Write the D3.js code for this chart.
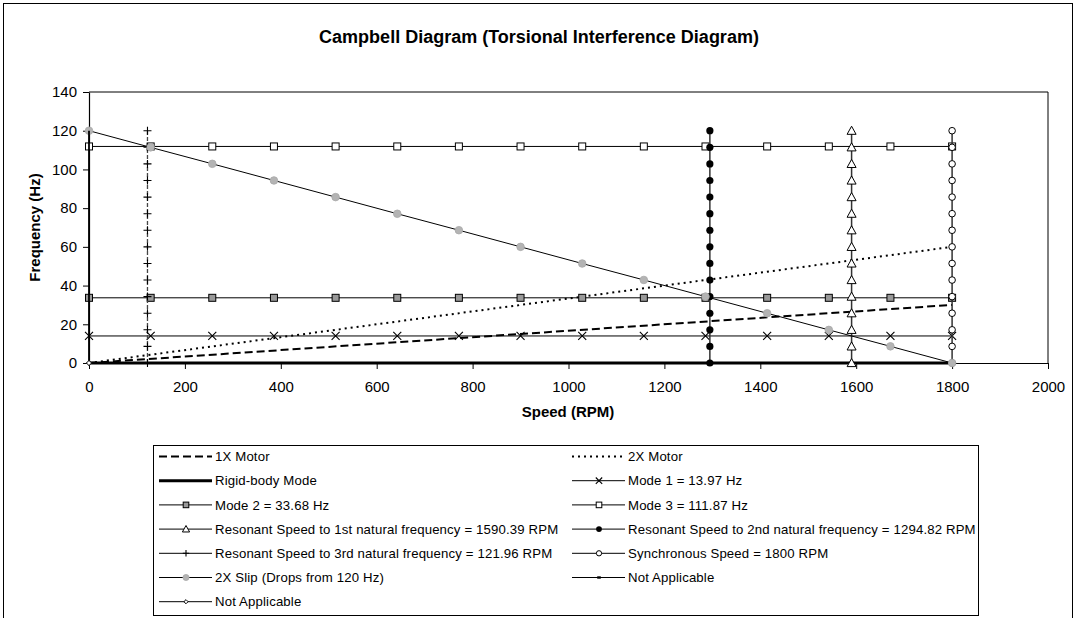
<!DOCTYPE html>
<html><head><meta charset="utf-8">
<script src="https://cdn.jsdelivr.net/npm/d3@7"></script>
<style>
body{margin:0;background:#fff}
svg{display:block;font-family:"Liberation Sans",Arial,sans-serif}
</style>
</head><body>
<svg id="chart" width="1075" height="618"></svg>
<script>
// Speeds (RPM) at which the constant-frequency lines carry markers
const rpmSteps = [0, 128.6, 257.1, 385.7, 514.3, 642.9, 771.4, 900, 1028.6, 1157.1, 1285.7, 1414.3, 1542.9, 1671.4, 1800];
// Frequencies (Hz) at which the constant-speed lines carry markers
const hzSteps = [0, 8.57, 17.14, 25.71, 34.29, 42.86, 51.43, 60, 68.57, 77.14, 85.71, 94.29, 102.86, 111.43, 120];

const motorRpm = [0, 1800];
const motor1xHz = [0, 30];
const motor2xHz = [0, 60];
const rigidHz = [0, 0];
const mode1Hz = 13.97;
const mode2Hz = 33.68;
const mode3Hz = 111.87;
const resonant1Rpm = 1590.39;
const resonant2Rpm = 1294.82;
const resonant3Rpm = 121.96;
const syncRpm = 1800;
const slipHz = [120, 111.4, 102.9, 94.3, 85.7, 77.1, 68.6, 60, 51.4, 42.9, 34.3, 25.7, 17.1, 8.6, 0];
const naRpm = [0, 0];
const naHz = [0, 120];

const xTicks = [0, 200, 400, 600, 800, 1000, 1200, 1400, 1600, 1800, 2000];
const yTicks = [0, 20, 40, 60, 80, 100, 120, 140];

const svg = d3.select("#chart");
const x = d3.scaleLinear().domain([0, 2000]).range([89, 1048]);
const y = d3.scaleLinear().domain([0, 140]).range([363, 92]);

// outer chart frame
svg.append("rect").attr("x", 3.5).attr("y", 3.5).attr("width", 1069).attr("height", 640)
  .attr("fill", "none").attr("stroke", "#000").attr("stroke-width", 1);

svg.append("text").attr("x", 539).attr("y", 43).attr("text-anchor", "middle")
  .attr("font-size", 18).attr("font-weight", "bold").text("Campbell Diagram (Torsional Interference Diagram)");

// plot frame (top/right)
svg.append("path").attr("d", `M${x(0)},${y(140)}H${x(2000)}V${y(0)}`)
  .attr("fill", "none").attr("stroke", "#000").attr("stroke-width", 1);

// axes
const xAxis = svg.append("g").attr("transform", `translate(0,${y(0)})`)
  .call(d3.axisBottom(x).tickValues(xTicks).tickFormat(d3.format("d")).tickSizeOuter(0).tickSizeInner(6).tickPadding(12));
const yAxis = svg.append("g").attr("transform", `translate(${x(0)},0)`)
  .call(d3.axisLeft(y).tickValues(yTicks).tickFormat(d3.format("d")).tickSizeOuter(0).tickSizeInner(6).tickPadding(6));
[xAxis, yAxis].forEach(g => {
  g.select(".domain").attr("stroke", "#000").attr("stroke-width", 1.2);
  g.selectAll("line").attr("stroke", "#000");
  g.selectAll("text").attr("font-size", 15).attr("fill", "#000").attr("font-family", "Liberation Sans, Arial, sans-serif");
});

svg.append("text").attr("x", 568).attr("y", 417).attr("text-anchor", "middle")
  .attr("font-size", 15).attr("font-weight", "bold").text("Speed (RPM)");
svg.append("text").attr("transform", `translate(40,${(y(0) + y(140)) / 2}) rotate(-90)`)
  .attr("text-anchor", "middle").attr("font-size", 15).attr("font-weight", "bold").text("Frequency (Hz)");

// marker glyphs
function marker(g, type, cx, cy, s) {
  s = s || 1;
  if (type === "x") {
    const r = 4 * s;
    g.append("path").attr("d", `M${cx - r},${cy - r}L${cx + r},${cy + r}M${cx - r},${cy + r}L${cx + r},${cy - r}`)
      .attr("stroke", "#000").attr("stroke-width", 1.1);
  } else if (type === "sqGray" || type === "sqWhite") {
    const r = 3.5 * s;
    g.append("rect").attr("x", cx - r).attr("y", cy - r).attr("width", 2 * r).attr("height", 2 * r)
      .attr("fill", type === "sqGray" ? "#999" : "#fff").attr("stroke", "#000").attr("stroke-width", 1);
  } else if (type === "tri") {
    const r = 4.5 * s;
    g.append("path").attr("d", `M${cx},${cy - r}L${cx + r},${cy + r * 0.8}L${cx - r},${cy + r * 0.8}Z`)
      .attr("fill", "#fff").attr("stroke", "#000").attr("stroke-width", 1);
  } else if (type === "dot") {
    g.append("circle").attr("cx", cx).attr("cy", cy).attr("r", 3.6 * s).attr("fill", "#000");
  } else if (type === "plus") {
    const r = 4 * s;
    g.append("path").attr("d", `M${cx - r},${cy}H${cx + r}M${cx},${cy - r}V${cy + r}`)
      .attr("stroke", "#000").attr("stroke-width", 1.1);
  } else if (type === "circ") {
    g.append("circle").attr("cx", cx).attr("cy", cy).attr("r", 3.3 * s)
      .attr("fill", "#fff").attr("stroke", "#000").attr("stroke-width", 1);
  } else if (type === "gray") {
    g.append("circle").attr("cx", cx).attr("cy", cy).attr("r", 3.8 * s)
      .attr("fill", "#b4b4b4").attr("stroke", "#a8a8a8").attr("stroke-width", 0.8);
  } else if (type === "dash") {
    g.append("rect").attr("x", cx - 1.8).attr("y", cy - 1.2).attr("width", 3.6).attr("height", 2.4).attr("fill", "#000");
  } else if (type === "diamond") {
    const r = 2.6 * s;
    g.append("path").attr("d", `M${cx},${cy - r}L${cx + r},${cy}L${cx},${cy + r}L${cx - r},${cy}Z`)
      .attr("fill", "#fff").attr("stroke", "#000").attr("stroke-width", 1);
  }
}

const hLine = v => rpmSteps.map(r => [r, v]);
const vLine = r => hzSteps.map(h => [r, h]);

const series = [
  { name: "1X Motor", pts: motorRpm.map((r, i) => [r, motor1xHz[i]]), stroke: "#000", width: 2, dash: "8,4", m: null },
  { name: "2X Motor", pts: motorRpm.map((r, i) => [r, motor2xHz[i]]), stroke: "#000", width: 2, dash: "2,4", m: null },
  { name: "Rigid-body Mode", pts: motorRpm.map((r, i) => [r, rigidHz[i]]), stroke: "#000", width: 3, dash: null, m: null },
  { name: "Mode 1 = 13.97 Hz", pts: hLine(mode1Hz), stroke: "#000", width: 1, dash: null, m: "x" },
  { name: "Mode 2 = 33.68 Hz", pts: hLine(mode2Hz), stroke: "#000", width: 1, dash: null, m: "sqGray" },
  { name: "Mode 3 = 111.87 Hz", pts: hLine(mode3Hz), stroke: "#000", width: 1, dash: null, m: "sqWhite" },
  { name: "Resonant Speed to 1st natural frequency = 1590.39 RPM", pts: vLine(resonant1Rpm), stroke: "#333", width: 1.5, dash: null, m: "tri" },
  { name: "Resonant Speed to 2nd natural frequency = 1294.82 RPM", pts: vLine(resonant2Rpm), stroke: "#333", width: 1.5, dash: null, m: "dot" },
  { name: "Resonant Speed to 3rd natural frequency = 121.96 RPM", pts: vLine(resonant3Rpm), stroke: "#444", width: 1.3, dash: "4,2", m: "plus", legendDash: null },
  { name: "Synchronous Speed = 1800 RPM", pts: vLine(syncRpm), stroke: "#333", width: 1.5, dash: null, m: "circ" },
  { name: "2X Slip (Drops from 120 Hz)", pts: rpmSteps.map((r, i) => [r, slipHz[i]]), stroke: "#000", width: 1, dash: null, m: "gray" },
  { name: "Not Applicable", pts: naRpm.map((r, i) => [r, naHz[i]]), stroke: "#000", width: 1.8, dash: null, m: null, lm: "dash" },
  { name: "Not Applicable", pts: [[0, 0]], stroke: "#000", width: 1, dash: null, m: "diamond" }
];

const line = d3.line().x(d => x(d[0])).y(d => y(d[1]));
const plot = svg.append("g");
series.forEach(s => {
  const g = plot.append("g");
  if (s.pts.length > 1) {
    g.append("path").attr("d", line(s.pts)).attr("fill", "none")
      .attr("stroke", s.stroke).attr("stroke-width", s.width)
      .attr("stroke-dasharray", s.dash);
  }
  if (s.m) s.pts.forEach(p => marker(g, s.m, x(p[0]), y(p[1])));
});

// legend
const lg = svg.append("g");
lg.append("rect").attr("x", 153.5).attr("y", 445.5).attr("width", 825).attr("height", 170)
  .attr("fill", "#fff").attr("stroke", "#000").attr("stroke-width", 1);
series.forEach((s, i) => {
  const col = i % 2, row = Math.floor(i / 2);
  const x0 = col === 0 ? 159 : 572;
  const cy = 456.5 + row * 24.2;
  const g = lg.append("g");
  const dash = s.legendDash !== undefined ? s.legendDash : s.dash;
  g.append("line").attr("x1", x0).attr("x2", x0 + 53).attr("y1", cy).attr("y2", cy)
    .attr("stroke", "#000").attr("stroke-width", s.m || s.lm ? 1 : s.width).attr("stroke-dasharray", dash);
  const mk = s.m || s.lm;
  if (mk) marker(g, mk, x0 + 27, cy, 0.8);
  g.append("text").attr("x", x0 + 56).attr("y", cy + 4.6).attr("font-size", 13.2)
    .attr("letter-spacing", 0.15).text(s.name);
});
</script>
</body></html>
